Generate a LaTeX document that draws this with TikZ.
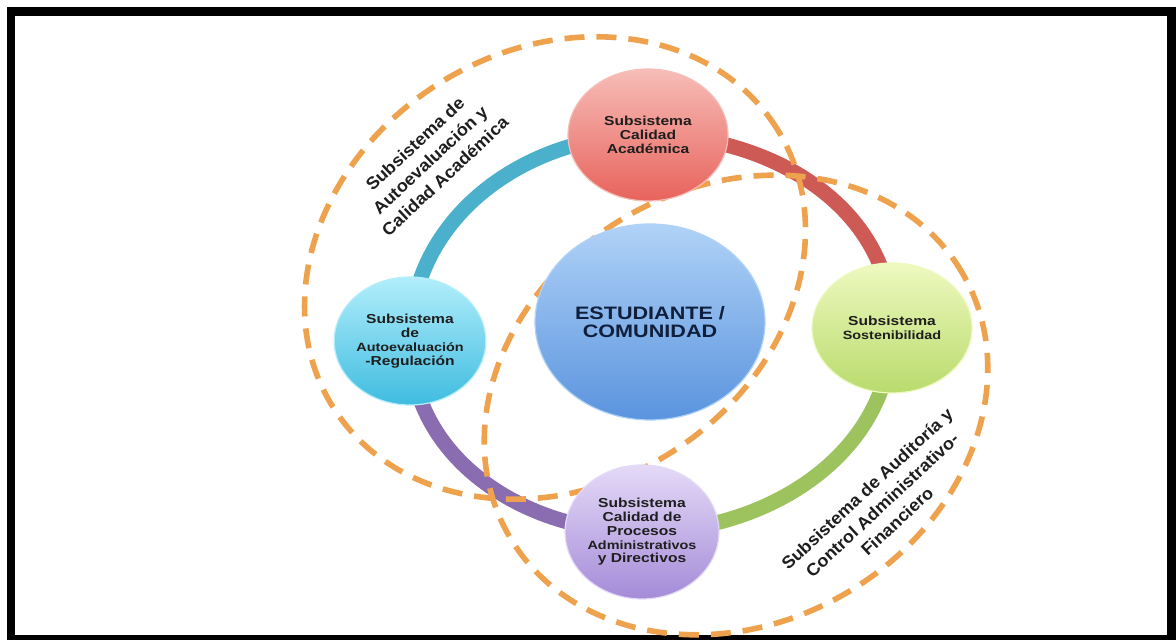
\documentclass[tikz,border=0pt]{standalone}
\usepackage{fontspec}
\setmainfont{Liberation Sans}
\newfontfamily\nodefont[FakeStretch=1.2]{Liberation Sans}
\newfontfamily\labfont[FakeStretch=1.05]{Liberation Sans}
\usetikzlibrary{shapes.geometric}
\definecolor{arcblue}{HTML}{4BB0CC}
\definecolor{arcred}{HTML}{CD5A55}
\definecolor{arcgreen}{HTML}{9DC35E}
\definecolor{arcpurple}{HTML}{8A6DB0}
\definecolor{dashorange}{HTML}{EFA24E}
\definecolor{txtdark}{HTML}{1E1E1E}
\definecolor{txtnavy}{HTML}{10203C}
\definecolor{redtop}{HTML}{F7BDB8}
\definecolor{redmid}{HTML}{EE8780}
\definecolor{redbot}{HTML}{E8635C}
\definecolor{bluetop}{HTML}{B2EEFB}
\definecolor{bluemid}{HTML}{6FD3EE}
\definecolor{bluebot}{HTML}{3FBCE0}
\definecolor{greentop}{HTML}{EEF9C0}
\definecolor{greenmid}{HTML}{D4EC92}
\definecolor{greenbot}{HTML}{B9DB6C}
\definecolor{purptop}{HTML}{E4DAF7}
\definecolor{purpmid}{HTML}{C3B0E8}
\definecolor{purpbot}{HTML}{A58BD8}
\definecolor{ctop}{HTML}{B0D2F7}
\definecolor{cmid}{HTML}{7CB2EC}
\definecolor{cbot}{HTML}{5A94DE}
\tikzset{
  ringarc/.style={line width=7.5pt},
  dashring/.style={draw=dashorange, line width=2.8pt, dash pattern=on 10pt off 6pt},
  subnode/.style={ellipse, inner sep=0pt, align=center, text=txtdark,
    font=\nodefont\bfseries\fontsize{6.5}{6.9}\selectfont, line width=0.6pt},
  sidelabel/.style={align=center, text=txtdark, rotate=43,
    font=\labfont\bfseries\fontsize{8.6}{11}\selectfont}
}
\begin{document}
\begin{tikzpicture}[x=0.5pt,y=0.5pt]
\useasboundingbox (0,0) rectangle (1176,640);
\fill[white] (0,0) rectangle (1176,640);
\fill[black] (7,0) rectangle (1176,633);
\fill[white] (15,5) rectangle (1167,624);
% node centres
\coordinate (t) at (648,505);
\coordinate (l) at (410,299);
\coordinate (r) at (892,312);
\coordinate (b) at (642,108);
\coordinate (c) at (650,318);
\coordinate (e1) at (555,372);
\coordinate (e2) at (736,235);
% ring arcs
\draw[ringarc, arcblue] (l) to[out=90,in=180] (t);
\draw[ringarc, arcred] (t) to[out=0,in=90] (r);
\draw[ringarc, arcgreen] (r) to[out=270,in=0] (b);
\draw[ringarc, arcpurple] (b) to[out=180,in=270] (l);
% dashed groups
\draw[dashring, rotate around={32:(e1)}] (e1) ellipse [x radius=262, y radius=218];
\draw[dashring, rotate around={30:(e2)}] (e2) ellipse [x radius=262, y radius=218];
% nodes
\node[subnode, minimum width=80pt, minimum height=66pt, draw=redtop,
  top color=redtop, middle color=redmid, bottom color=redbot] (T) at (t)
  {Subsistema\\Calidad\\Académica};
\node[subnode, minimum width=73pt, minimum height=64pt, draw=bluetop,
  top color=bluetop, middle color=bluemid, bottom color=bluebot] (L) at (l)
  {Subsistema\\de\\{\fontsize{6}{6.9}\selectfont Autoevaluación}\\-Regulación};
\node[subnode, minimum width=80pt, minimum height=65pt, draw=greentop,
  top color=greentop, middle color=greenmid, bottom color=greenbot] (R) at (r)
  {Subsistema\\{\fontsize{6}{6.9}\selectfont Sostenibilidad}};
\node[subnode, minimum width=74pt, minimum height=67pt, draw=purptop,
  top color=purptop, middle color=purpmid, bottom color=purpbot] (B) at (b)
  {Subsistema\\Calidad de\\Procesos\\{\fontsize{6}{6.9}\selectfont Administrativos}\\y Directivos};
\node[subnode, minimum width=115pt, minimum height=98pt, draw=ctop, text=txtnavy,
  top color=ctop, middle color=cmid, bottom color=cbot,
  font=\nodefont\bfseries\fontsize{9}{9.2}\selectfont] (C) at (c)
  {ESTUDIANTE /\\COMUNIDAD};
% side labels
\node[sidelabel] (lab1) at (430,480) {Subsistema de\\Autoevaluación y\\Calidad Académica};
\node[sidelabel] (lab2) at (882,135) {Subsistema de Auditoría y\\Control Administrativo-\\Financiero};
\end{tikzpicture}
\end{document}
